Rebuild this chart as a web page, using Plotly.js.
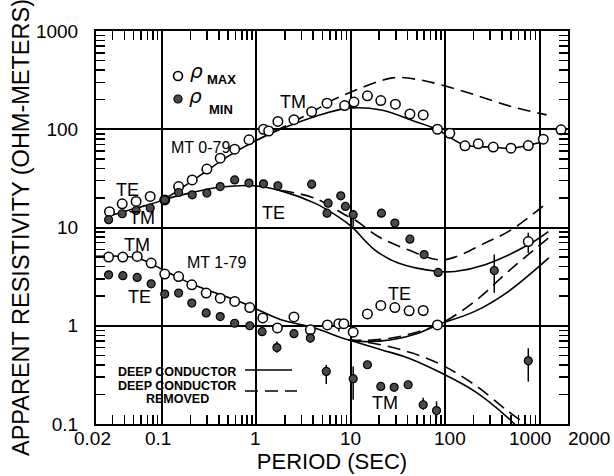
<!DOCTYPE html>
<html><head><meta charset="utf-8">
<script src="https://cdn.plot.ly/plotly-3.0.1.min.js"></script>
<style>html,body{margin:0;padding:0;background:#fff}</style>
</head><body><div id="chart" style="width:614px;height:476px"></div>
<script>
// ---------------- DATA ----------------
// MT 0-79 (upper set): rho_max (open) and rho_min (filled)
const uMaxT = [0.0278,0.0379,0.0532,0.075,0.107,0.15,0.209,0.299,0.414,0.589,0.835,1.19,1.35,1.69,2.5,3.85,5.6,8.6,10.8,15,20.8,29.7,42.3,58.5,82.8,112,162,224,323,498,759,1094,1687,759];
const uMaxR = [14.5,17.4,18.4,20.7,19.1,26.1,30.5,39.3,50.8,62.7,78,100,96,120,125,151,184,174,189,219,196,180,143,140,100,91,67.8,71,65.8,64.2,68.3,79.3,98.6,7.2];
const uMaxHi = [null,null,null,null,null,null,null,null,null,null,null,null,null,null,null,null,null,null,null,null,null,null,null,null,null,null,null,null,null,null,null,null,null,8.85];
const uMaxLo = [null,null,null,null,null,null,null,null,null,null,null,null,null,null,null,null,null,null,null,null,null,null,null,null,null,null,null,null,null,null,null,null,null,5.5];

const uMinT = [0.0272,0.0379,0.0532,0.075,0.107,0.15,0.209,0.299,0.414,0.589,0.835,1.19,1.69,3.85,5.6,5.75,7.83,8.77,10.6,21.1,29.3,42.3,59.8,84.3,331];
const uMinR = [12.0,13.8,14.9,15.8,19.1,22.7,21.5,22.4,26.1,30.5,28.3,27.8,26.6,27.6,14,17.7,21,16.4,13.5,14,11.1,7.6,5.3,3.49,3.65];
const uMinHi = [null,null,null,null,null,null,null,null,null,null,null,null,null,30.2,null,null,null,null,15.1,null,null,null,null,null,5.3];
const uMinLo = [null,null,null,null,null,null,null,null,null,null,null,null,null,24.6,null,null,null,null,10.2,null,null,null,null,null,2.17];

// MT 1-79 (lower set)
const lMaxT = [0.0272,0.0385,0.0546,0.0768,0.107,0.15,0.207,0.294,0.414,0.589,0.85,1.17,1.67,2.5,3.73,5.65,7.47,8.44,10.6,15,20.8,29.3,41.5,58.5,82.8];
const lMaxR = [5.0,5.0,5.07,4.35,3.36,3.17,2.61,2.15,1.91,1.77,1.53,1.2,0.95,1.23,0.91,1.02,1.05,1.05,0.86,1.32,1.61,1.53,1.42,1.43,1.02];
const lMaxHi = [null,null,null,null,null,null,null,null,null,null,null,null,null,null,null,null,1.15,null,null,null,null,null,null,null,null];
const lMaxLo = [null,null,null,null,null,null,null,null,null,null,null,null,null,null,null,null,0.875,null,null,null,null,null,null,null,null];

const lMinT = [0.0272,0.0385,0.0546,0.0768,0.107,0.15,0.207,0.294,0.414,0.589,0.85,1.15,1.65,2.5,3.73,5.5,10.6,15,20.8,28.8,40.5,58.5,81,759];
const lMinR = [3.3,3.23,3.1,2.67,2.1,2.15,1.7,1.35,1.24,1.06,1.0,0.87,0.6,0.83,0.75,0.343,0.289,0.401,0.241,0.236,0.251,0.157,0.137,0.44];
const lMinHi = [null,null,null,null,null,null,null,null,null,null,null,null,0.69,null,0.84,0.40,0.385,null,null,null,null,0.185,0.17,0.59];
const lMinLo = [null,null,null,null,null,null,null,null,null,null,null,null,0.53,null,0.67,0.255,0.177,null,null,null,null,0.14,0.115,0.27];

// Model curves: "deep conductor" (solid) and "deep conductor removed" (dashed)
const uTMsT = [0.027,0.05,0.1,0.2,0.3,0.5,1,1.8,4.2,9.4,21,48,83,160,320,500,1100];
const uTMsR = [13,15.5,19,29,38,53,77,100,135,164,157,120,99,69,66,64,75];
const uTMdT = [1,1.8,2.5,4,6.2,9.4,14,21,30,50,91,206,505,1186];
const uTMdR = [77,102,120,152,195,233,272,313,336,322,283,224,170,140];
const uTEsT = [0.1,0.2,0.42,0.96,1.83,4.15,7.33,10.2,17.9,31.8,84.3,127,264,759,1237];
const uTEsR = [19,22.5,25.8,26.6,23.6,17.7,12.9,10.2,5.93,4.34,3.57,3.57,4.18,6.67,9.1];
const uTEdT = [1.83,4.15,9.4,11,19.5,40.5,84.3,127,264,505,1186];
const uTEdR = [23.8,19.9,12.9,12,8.1,5.93,4.69,5.0,6.94,9.5,17.7];

const lSrT = [0.0193,0.0546,0.107,0.207,0.589,0.96,1.83,4.15,9.4,14.1,27,51.8,82.8,206,466,1250];
const lSrR = [5.07,4.89,3.63,2.66,1.84,1.51,1.15,0.95,0.72,0.69,0.72,0.84,1.02,1.4,2.23,4.9];
const lSfT = [9.4,21,40.5,91.4,206,466,600];
const lSfR = [0.72,0.57,0.47,0.33,0.215,0.115,0.09];
const lDrT = [9.4,14.1,27,51.8,91.4,206,466,1237];
const lDrR = [0.72,0.71,0.75,0.87,1.06,1.77,3.57,7.8];
const lDfT = [9.4,21,44,91.4,206,466,900];
const lDfR = [0.72,0.64,0.53,0.40,0.25,0.134,0.085];

// Tick labels
const xTickVals = [0.02,0.1,1,10,100,1000,2000];
const xTickText = ['0.02','0.1','1','10','100','1000','2000'];
const yTickVals = [0.1,1,10,100,1000];
const yTickText = ['0.1','1','10','100','1000'];

// Curve labels
const labelText = ['TM','MT 0-79','TE','TM','TE','TM','MT 1-79','TE','TE','TM'];

// ---------------- STYLE / LAYOUT ----------------
const SANS = '"Liberation Sans", Arial, sans-serif';
const L = 96, R = 568, T = 31, B = 424;
const xp = px => (px - L) / (R - L);
const yp = py => (B - py) / (B - T);
const DASH = '13px,7px';

function errY(v, hi, lo) {
  return {type:'data', symmetric:false, width:0, thickness:1.5, color:'black',
    array: v.map((y,i)=> hi[i]==null ? 0 : hi[i]-y),
    arrayminus: v.map((y,i)=> lo[i]==null ? 0 : y-lo[i])};
}
function curve(x, y, dash) {
  return {x, y, type:'scatter', mode:'lines', hoverinfo:'skip', showlegend:false,
    line:{color:'black', width:1.6, shape:'spline', smoothing:1, dash: dash || 'solid'}};
}
const openM = {symbol:'circle', size:9.5, color:'white', line:{color:'black', width:1.5}};
const fillM = {symbol:'circle', size:8, color:'#4a4a4a', line:{color:'black', width:1.2}};

const data = [
  curve(uTMsT,uTMsR), curve(uTMdT,uTMdR,DASH),
  curve(uTEsT,uTEsR), curve(uTEdT,uTEdR,DASH),
  curve(lSrT,lSrR), curve(lSfT,lSfR),
  curve(lDrT,lDrR,DASH), curve(lDfT,lDfR,DASH),
  {x:uMaxT, y:uMaxR, type:'scatter', mode:'markers', marker:openM, error_y:errY(uMaxR,uMaxHi,uMaxLo), showlegend:false},
  {x:uMinT, y:uMinR, type:'scatter', mode:'markers', marker:fillM, error_y:errY(uMinR,uMinHi,uMinLo), showlegend:false},
  {x:lMaxT, y:lMaxR, type:'scatter', mode:'markers', marker:openM, error_y:errY(lMaxR,lMaxHi,lMaxLo), showlegend:false},
  {x:lMinT, y:lMinR, type:'scatter', mode:'markers', marker:fillM, error_y:errY(lMinR,lMinHi,lMinLo), showlegend:false}
];

function minorVals(lo, hi) {
  const out = [];
  for (let e = lo; e <= hi; e++) for (let m = 2; m <= 9; m++) out.push(m * Math.pow(10, e));
  return out;
}

// label pixel positions (centre x, centre y)
const labelPos = [[293,102],[200,147],[127,190],[142,218],[273,213],[137,245],[216,262],[139,297],[399,294],[385,403]];
const labelSize = [18,16,18,18,18,18,16,18,18,18];
const annotations = labelText.map((t,i)=>({
  text:t, xref:'paper', yref:'paper', x:xp(labelPos[i][0]), y:yp(labelPos[i][1]),
  xanchor:'center', yanchor:'middle', showarrow:false,
  font:{family:SANS, size:labelSize[i], color:'black'}
}));
// x tick labels as annotations (1000 and 2000 are offset in the original)
const xShift = [-4,-4,-1,0,5,-10,21];
xTickVals.forEach((v,i)=>annotations.push({
  text:xTickText[i], xref:'x', yref:'paper', x:Math.log10(v), y:0, yshift:-2, xshift:xShift[i],
  xanchor:'center', yanchor:'top', showarrow:false, font:{family:SANS, size:19, color:'black'}
}));
// rho legend
const RHO = {family:'"DejaVu Sans", sans-serif', size:20, style:'italic', color:'black'};
annotations.push(
  {text:'ρ', xref:'paper', yref:'paper', x:xp(196), y:yp(71), xanchor:'center', yanchor:'middle', showarrow:false, borderpad:0, font:RHO},
  {text:'<b>MAX</b>', xref:'paper', yref:'paper', x:xp(221), y:yp(80), xanchor:'center', yanchor:'middle', showarrow:false, font:{family:SANS, size:13, color:'black'}},
  {text:'ρ', xref:'paper', yref:'paper', x:xp(195), y:yp(96.5), xanchor:'center', yanchor:'middle', showarrow:false, borderpad:0, font:RHO},
  {text:'<b>MIN</b>', xref:'paper', yref:'paper', x:xp(221), y:yp(110), xanchor:'center', yanchor:'middle', showarrow:false, font:{family:SANS, size:13, color:'black'}},
  {text:'<b>DEEP CONDUCTOR</b>', xref:'paper', yref:'paper', x:xp(116), y:yp(372), xanchor:'left', yanchor:'middle', showarrow:false, font:{family:SANS, size:12.5, color:'black'}},
  {text:'<b>DEEP CONDUCTOR</b>', xref:'paper', yref:'paper', x:xp(116), y:yp(386), xanchor:'left', yanchor:'middle', showarrow:false, font:{family:SANS, size:12.5, color:'black'}},
  {text:'<b>REMOVED</b>', xref:'paper', yref:'paper', x:xp(177), y:yp(399), xanchor:'center', yanchor:'middle', showarrow:false, font:{family:SANS, size:12.5, color:'black'}}
);

const shapes = [
  {type:'circle', xref:'paper', yref:'paper', xsizemode:'pixel', ysizemode:'pixel', xanchor:xp(178), yanchor:yp(76), x0:-4.5, x1:4.5, y0:-4.5, y1:4.5, line:{color:'black', width:1.6}, fillcolor:'white'},
  {type:'circle', xref:'paper', yref:'paper', xsizemode:'pixel', ysizemode:'pixel', xanchor:xp(178), yanchor:yp(99), x0:-4, x1:4, y0:-4, y1:4, line:{color:'black', width:1.2}, fillcolor:'#4a4a4a'},
  {type:'line', xref:'paper', yref:'paper', x0:xp(245), x1:xp(292), y0:yp(370), y1:yp(370), line:{color:'black', width:1.6}},
  {type:'line', xref:'paper', yref:'paper', x0:xp(245), x1:xp(297), y0:yp(391), y1:yp(391), line:{color:'black', width:1.6, dash:DASH}}
];

const layout = {
  width:614, height:476,
  margin:{l:L, r:614-R, t:T, b:476-B},
  paper_bgcolor:'white', plot_bgcolor:'white',
  showlegend:false,
  font:{family:SANS, color:'black'},
  xaxis:{type:'log', range:[Math.log10(0.02), Math.log10(2000)],
    tickmode:'array', tickvals:[0.1,1,10,100,1000], showticklabels:false, ticks:'',
    showgrid:true, gridcolor:'black', gridwidth:2,
    showline:true, linecolor:'black', linewidth:2, mirror:'allticks',
    minor:{tickmode:'array', tickvals:minorVals(-2,3).filter(v=>v>0.02&&v<2000), ticks:'inside', ticklen:9, tickwidth:1.5, tickcolor:'black', showgrid:false},
    title:{text:'PERIOD (SEC)', font:{family:SANS, size:22, color:'black'}, standoff:29},
    fixedrange:true},
  yaxis:{type:'log', range:[-1,3],
    tickmode:'array', tickvals:yTickVals, ticktext:yTickText, ticks:'',
    tickfont:{family:SANS, size:19, color:'black'}, ticklabelstandoff:12,
    showgrid:true, gridcolor:'black', gridwidth:2,
    showline:true, linecolor:'black', linewidth:2, mirror:'allticks',
    minor:{tickmode:'array', tickvals:minorVals(-1,2), ticks:'inside', ticklen:9, tickwidth:1.5, tickcolor:'black', showgrid:false},
    title:{text:'APPARENT RESISTIVITY (OHM-METERS)', font:{family:SANS, size:23.5, color:'black'}, standoff:0},
    fixedrange:true},
  annotations, shapes
};

Plotly.newPlot('chart', data, layout, {staticPlot:true, displayModeBar:false});
</script></body></html>
